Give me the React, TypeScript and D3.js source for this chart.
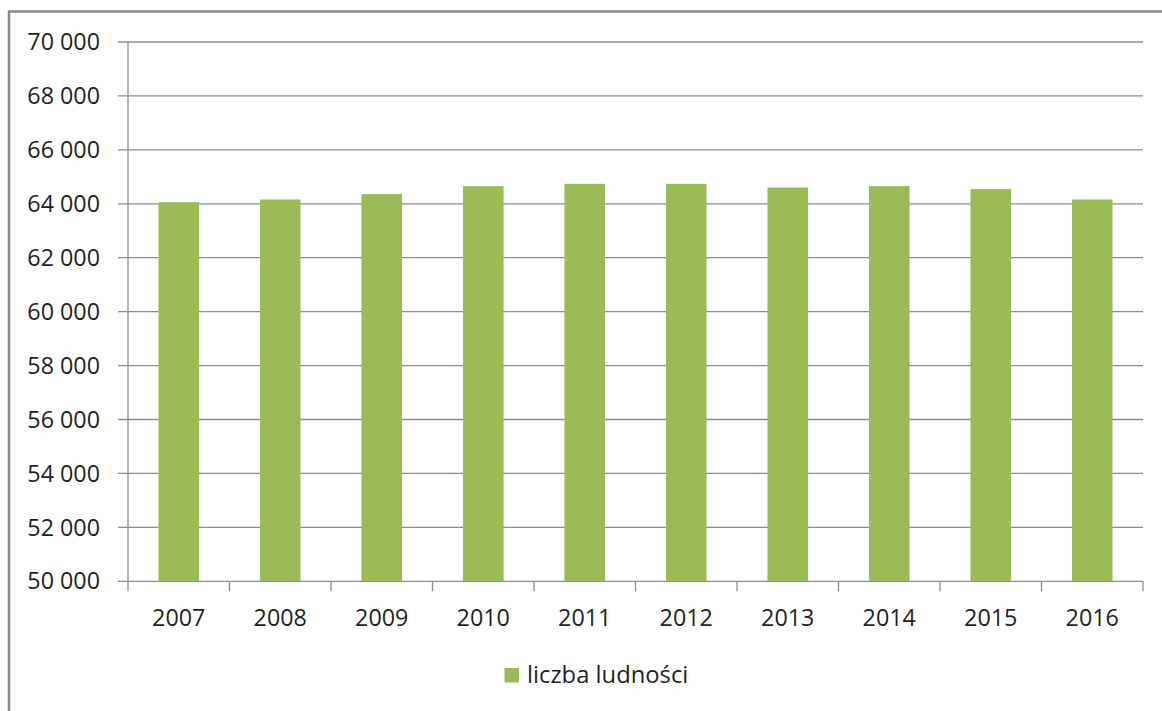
import React from "react";
import * as d3 from "d3";

const years = ["2007", "2008", "2009", "2010", "2011", "2012", "2013", "2014", "2015", "2016"];
const population = [64060, 64160, 64360, 64655, 64740, 64740, 64605, 64655, 64545, 64160];
const yTicks = [50000, 52000, 54000, 56000, 58000, 60000, 62000, 64000, 66000, 68000, 70000];
const seriesName = "liczba ludności";

const W = 1162;
const H = 711;
const left = 128;
const right = 1143;
const top = 42;
const bottom = 581.3;
const green = "#9bbb59";
const gridColor = "#8c8c8c";
const textColor = "#1f1f1f";
const font = "'Open Sans', sans-serif";

const fmt = (v: number) => d3.format(",")(v).replace(/,/g, " ");

export default function App() {
  const x = d3.scaleBand<string>().domain(years).range([left, right]).paddingInner(0.6).paddingOuter(0.3);
  const band = d3.scaleBand<string>().domain(years).range([left, right]).padding(0);
  const y = d3.scaleLinear().domain([50000, 70000]).range([bottom, top]);

  return (
    <svg width={W} height={H} style={{ position: "absolute", left: 0, top: 0, display: "block" }}>
      <rect x={0} y={0} width={W} height={H} fill="#fff" />
      <rect x={9} y={11.5} width={W + 10} height={H + 10} fill="none" stroke="#888" strokeWidth={2.5} />
      {yTicks.map((t) => (
        <g key={t}>
          <line x1={left - 10} x2={right} y1={y(t)} y2={y(t)} stroke={gridColor} strokeWidth={1.3} />
          <text x={100} y={y(t)} dy="0.35em" textAnchor="end" fontFamily={font} fontSize={23.3} fill={textColor}>
            {fmt(t)}
          </text>
        </g>
      ))}
      <line x1={left} x2={left} y1={top} y2={bottom} stroke={gridColor} strokeWidth={1.3} />
      {years.map((yr, i) => (
        <rect
          key={yr}
          x={x(yr)}
          y={y(population[i])}
          width={x.bandwidth()}
          height={bottom - y(population[i])}
          fill={green}
        />
      ))}
      {[...years.map((yr) => band(yr) as number), right].map((px, i) => (
        <line key={i} x1={px} x2={px} y1={bottom} y2={bottom + 10} stroke={gridColor} strokeWidth={1.3} />
      ))}
      {years.map((yr) => (
        <text
          key={yr}
          x={(band(yr) as number) + band.bandwidth() / 2}
          y={626}
          textAnchor="middle"
          fontFamily={font}
          fontSize={23.3}
          fill={textColor}
        >
          {yr}
        </text>
      ))}
      <rect x={504.5} y={668} width={14.5} height={14.5} fill={green} />
      <text x={527} y={683} fontFamily={font} fontSize={23.8} fill={textColor}>
        {seriesName}
      </text>
    </svg>
  );
}
